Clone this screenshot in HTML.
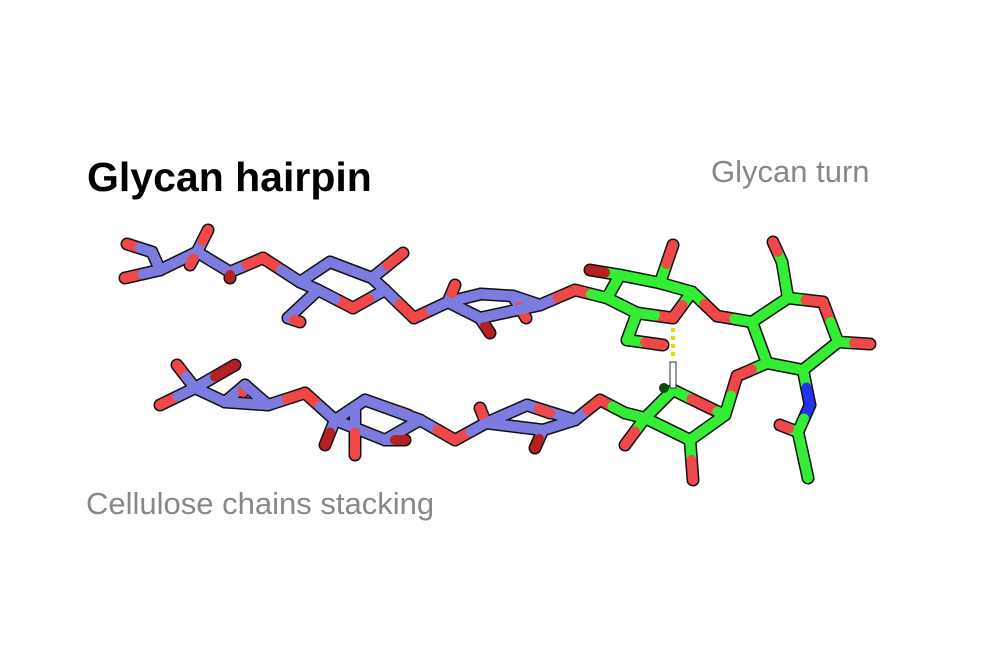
<!DOCTYPE html>
<html><head><meta charset="utf-8"><style>
html,body{margin:0;padding:0;background:#fff;}
body{width:1000px;height:667px;position:relative;overflow:hidden;font-family:"Liberation Sans",sans-serif;}
.t{position:absolute;white-space:nowrap;line-height:1;}
svg{position:absolute;left:0;top:0;}
</style></head><body>
<div class="t" style="left:87px;top:157px;font-size:41px;font-weight:bold;color:#000;">Glycan hairpin</div>
<div class="t" style="left:711px;top:156px;font-size:31px;color:#888;">Glycan turn</div>
<div class="t" style="left:86px;top:488px;font-size:31px;color:#888;">Cellulose chains stacking</div>
<svg id="s" width="1000" height="667" viewBox="0 0 1000 667"></svg>
<script>
var col={b:"#7b7be0",g:"#33ee33",r:"#f04848",n:"#2233ee",d:"#b52020"};
var A={},B=[];
function at(id,x,y,t){A[id]=[x,y,t];}
function bd(){for(var i=0;i<arguments.length-1;i++)B.push([arguments[i],arguments[i+1]]);}
at("t1",127,244,"r");at("t2",152,252,"b");at("t3",125,278,"r");at("t4",160,270,"b");
at("t5",197,252,"b");at("t6",208,230,"r");at("t7",190,265,"r");at("t8",230,272,"b");
at("t9",263,258,"r");at("t10",300,282,"b");at("t11",330,262,"b");at("t12",372,278,"b");
at("t13",403,253,"r");at("t14",385,290,"b");at("t15",353,308,"r");at("t16",318,290,"b");
at("t17",288,318,"b");at("t18",300,322,"r");at("t19",414,318,"r");at("t20",448,302,"b");
at("t21",455,285,"r");at("t22",481,294,"b");at("t23",513,296,"b");at("t24",526,318,"r");
at("t25",540,305,"b");at("t26",575,290,"r");at("t27",480,318,"b");at("t28",490,333,"d");at("t29",230,278,"d");
bd("t1","t2","t4","t5","t8","t9","t10","t11","t12","t14","t15","t16","t10");
bd("t3","t4");bd("t5","t6");bd("t5","t7");bd("t12","t13");bd("t16","t17","t18");
bd("t14","t19","t20","t22","t23","t25","t26");bd("t20","t21");bd("t23","t24");bd("t20","t27","t28");bd("t27","t25");bd("t8","t29");
at("g1",607,298,"g");at("g2",620,275,"g");at("g0",590,270,"d");at("g3",660,283,"g");at("g4",673,245,"r");
at("g5",692,292,"g");at("g6",673,318,"r");at("g7",637,313,"g");at("g8",627,340,"g");at("g9",663,345,"r");
at("g10",717,316,"r");at("g11",752,322,"g");at("g12",788,298,"g");at("g13",823,302,"r");at("g14",838,342,"g");
at("g15",803,370,"g");at("g16",767,363,"g");at("g17",782,262,"g");at("g18",773,242,"r");at("g19",870,344,"r");
at("g20",810,405,"n");at("g21",798,432,"g");at("g22",780,425,"r");at("g23",808,478,"g");
at("g24",737,376,"r");at("g25",725,415,"g");at("g26",690,440,"g");at("g27",673,390,"g");at("g28",710,408,"r");
at("g29",645,418,"g");at("g30",625,445,"r");at("g31",693,480,"r");at("g32",625,413,"g");
bd("t26","g1","g2","g3","g5","g6","g7","g1");bd("g2","g0");bd("g3","g4");bd("g7","g8","g9");
bd("g5","g10","g11","g12","g13","g14","g15","g16","g11");bd("g12","g17","g18");bd("g14","g19");
bd("g15","g20","g21","g22");bd("g21","g23");bd("g16","g24","g25","g26","g29","g27","g28","g25");
bd("g26","g31");bd("g29","g30");bd("g29","g32");
at("b1",177,365,"r");at("b2",195,388,"b");at("b3",160,405,"r");at("b4",235,365,"d");at("b5",225,402,"b");
at("b6",245,385,"b");at("b7",243,392,"r");at("b8",268,405,"b");at("b9",305,393,"r");at("b10",335,420,"b");
at("b11",365,400,"b");at("b12",408,415,"r");at("b13",385,440,"b");at("b14",355,455,"r");at("b15",355,410,"b");
at("b16",325,445,"d");at("b17",420,420,"b");at("b18",455,440,"r");at("b19",486,423,"b");at("b20",480,408,"r");
at("b21",527,405,"b");at("b22",550,413,"r");at("b23",543,430,"b");at("b24",535,448,"d");at("b25",575,420,"b");
at("b26",600,400,"r");at("b27",405,440,"d");
bd("b1","b2","b5","b8","b9","b10","b11","b12");bd("b3","b2");bd("b2","b4");bd("b6","b5");bd("b6","b7");bd("b6","b8");
bd("b10","b13","b17","b11");bd("b15","b14");bd("b10","b16");bd("b13","b27");bd("b17","b18","b19","b21","b25","b26","g32");
bd("b19","b20");bd("b21","b22");bd("b19","b23","b24");bd("b23","b25");
var s=document.getElementById("s"),h="";
B.forEach(function(b){var p=A[b[0]],q=A[b[1]];h+='<line x1="'+p[0]+'" y1="'+p[1]+'" x2="'+q[0]+'" y2="'+q[1]+'" stroke="#111" stroke-width="13" stroke-linecap="round"/>';});
B.forEach(function(b){var p=A[b[0]],q=A[b[1]],mx=(p[0]+q[0])/2,my=(p[1]+q[1])/2;
h+='<line x1="'+p[0]+'" y1="'+p[1]+'" x2="'+mx+'" y2="'+my+'" stroke="'+col[p[2]]+'" stroke-width="10" stroke-linecap="round"/>';
h+='<line x1="'+mx+'" y1="'+my+'" x2="'+q[0]+'" y2="'+q[1]+'" stroke="'+col[q[2]]+'" stroke-width="10" stroke-linecap="round"/>';});
h+='<line x1="673" y1="328" x2="673" y2="360" stroke="#dd0" stroke-width="4" stroke-dasharray="4,4"/>';
h+='<rect x="670" y="362" width="6" height="26" fill="#fff" stroke="#333" stroke-width="1"/>';
h+='<circle cx="664" cy="388" r="5" fill="#0a4a0a"/>';
s.innerHTML=h;
</script>
</body></html>
